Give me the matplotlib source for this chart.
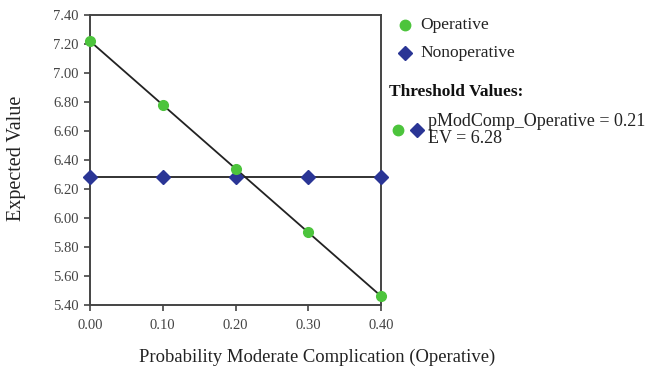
#!/usr/bin/env python3
import matplotlib
matplotlib.use("Agg")
import matplotlib.pyplot as plt
import numpy as np

# Sensitivity analysis data
prob = [0.00, 0.10, 0.20, 0.30, 0.40]
ev_operative = [7.22, 6.78, 6.34, 5.90, 5.46]
ev_nonoperative = [6.28, 6.28, 6.28, 6.28, 6.28]
threshold_p = 0.21
threshold_ev = 6.28
xticks = [0.00, 0.10, 0.20, 0.30, 0.40]
yticks = [5.40, 5.60, 5.80, 6.00, 6.20, 6.40, 6.60, 6.80, 7.00, 7.20, 7.40]

green = "#4cc43c"
blue = "#2a3595"

plt.rcParams["font.family"] = ["Liberation Serif", "DejaVu Serif"]

fig = plt.figure(figsize=(6.47, 3.75), dpi=100)
ax = fig.add_axes([0.139, 0.187, 0.45, 0.773])

# lines first, markers on top
ax.plot(prob, ev_operative, color="#222222", lw=1.3, zorder=2)
ax.plot(prob, ev_nonoperative, color="#222222", lw=1.3, zorder=2)
ax.plot(prob, ev_nonoperative, ls="none", marker="D", ms=7, color=blue, zorder=3, clip_on=False)
ax.plot(prob, ev_operative, ls="none", marker="o", ms=7, color=green, zorder=4, clip_on=False)

ax.set_xlim(0, 0.40)
ax.set_ylim(5.40, 7.40)
ax.set_xticks(xticks)
ax.set_xticklabels([f"{v:.2f}" for v in xticks], fontsize=10.5, color="#444444")
ax.set_yticks(yticks)
ax.set_yticklabels([f"{v:.2f}" for v in yticks], fontsize=10.5, color="#444444")
ax.tick_params(direction="out", length=4, width=1.2, color="#444444")
ax.tick_params(axis="x", pad=6)
ax.tick_params(axis="y", pad=4)
for s in ax.spines.values():
    s.set_color("#444444")
    s.set_linewidth(1.4)

fig.text(317/647, 1-357/375, "Probability Moderate Complication (Operative)",
         fontsize=13.4, ha="center", va="center", color="#222222")
fig.text(17/647, 1-158/375, "Expected Value", fontsize=14.5, rotation=90,
         ha="center", va="center", color="#222222")

# legend area drawn by hand to match the layout
fig.lines.append(plt.Line2D([405/647], [1-25/375], transform=fig.transFigure, marker="o", ms=7.5, color=green))
fig.text(420/647, 1-25/375, "Operative", fontsize=12.5, va="center", color="#222222")
fig.lines.append(plt.Line2D([405/647], [1-53/375], transform=fig.transFigure, marker="D", ms=7, color=blue))
fig.text(420/647, 1-53/375, "Nonoperative", fontsize=12.5, va="center", color="#222222")
fig.text(389/647, 1-92/375, "Threshold Values:", fontsize=12.5, fontweight="bold", va="center", color="#111111")
fig.lines.append(plt.Line2D([398/647], [1-130/375], transform=fig.transFigure, marker="o", ms=7.5, color=green))
fig.lines.append(plt.Line2D([417/647], [1-130/375], transform=fig.transFigure, marker="D", ms=7, color=blue))
fig.text(428/647, 1-130/375,
         f"pModComp_Operative = {threshold_p:.2f}\nEV = {threshold_ev:.2f}",
         fontsize=13, va="center", linespacing=1.0, color="#222222")

fig.savefig("out.png", dpi=100)
